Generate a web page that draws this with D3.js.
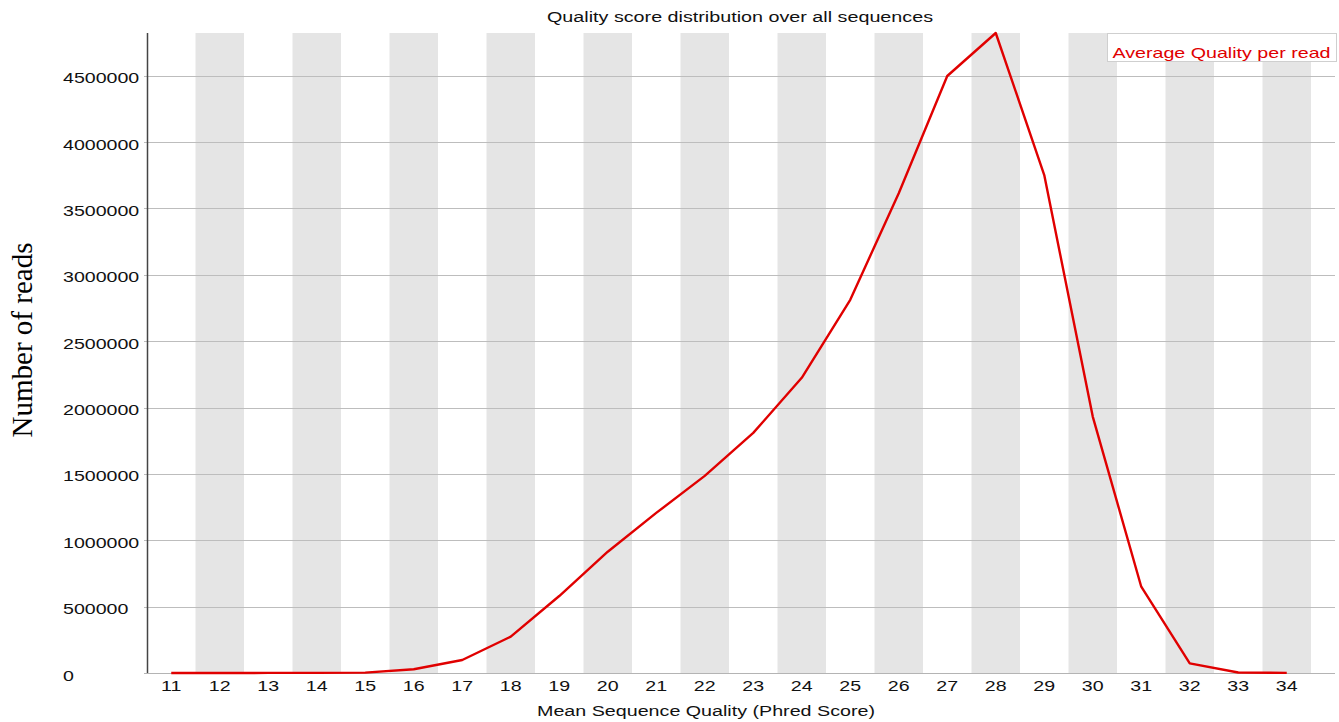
<!DOCTYPE html>
<html>
<head>
<meta charset="utf-8">
<script src="https://cdn.jsdelivr.net/npm/d3@7"></script>
<style>
  html, body { margin: 0; padding: 0; background: #fff; }
  svg { display: block; }
</style>
</head>
<body>
<svg id="chart" width="1339" height="722"></svg>
<script>
// Mean per-read quality score bins (Phred) and read counts per bin
const qualityScores = [11, 12, 13, 14, 15, 16, 17, 18, 19, 20, 21, 22, 23, 24, 25, 26, 27, 28, 29, 30, 31, 32, 33, 34];
const readCounts = [300, 400, 600, 900, 2500, 28000, 98000, 274000, 580000, 914000, 1206000, 1485000, 1809000, 2224000, 2812000, 3615000, 4498000, 4822000, 3752000, 1932000, 650000, 73000, 4000, 600];
const yTickValues = [0, 500000, 1000000, 1500000, 2000000, 2500000, 3000000, 3500000, 4000000, 4500000];
const seriesName = "Average Quality per read";
const titleText = "Quality score distribution over all sequences";
const xTitle = "Mean Sequence Quality (Phred Score)";
const yTitle = "Number of reads";

const svg = d3.select("#chart");
const plotLeft = 147, plotRight = 1311, gridRight = 1335, plotTop = 33, plotBottom = 673;
const labelLeft = 63;
const sans = "'Liberation Sans', Arial, sans-serif";

const x = d3.scaleBand().domain(qualityScores).range([plotLeft, plotRight]).paddingInner(0).paddingOuter(0);
const y = d3.scaleLinear().domain([0, d3.max(readCounts)]).range([plotBottom, plotTop]);

// alternating shaded bins
svg.append("g").selectAll("rect")
  .data(qualityScores.filter((d, i) => i % 2 === 1))
  .join("rect")
  .attr("x", d => x(d))
  .attr("y", plotTop)
  .attr("width", x.bandwidth())
  .attr("height", plotBottom - plotTop)
  .attr("fill", "#e5e5e5");

// horizontal grid lines
svg.append("g").selectAll("line")
  .data(yTickValues)
  .join("line")
  .attr("x1", plotLeft - 3)
  .attr("x2", gridRight)
  .attr("y1", d => Math.round(y(d)) + 0.5)
  .attr("y2", d => Math.round(y(d)) + 0.5)
  .attr("stroke", d => d === 0 ? "#b4b4b4" : "#bdbdbd")
  .attr("stroke-width", 1.2);

// y axis line
svg.append("line")
  .attr("x1", plotLeft + 0.5).attr("x2", plotLeft + 0.5)
  .attr("y1", plotTop).attr("y2", plotBottom)
  .attr("stroke", "#444").attr("stroke-width", 1.5);

// y tick labels, left-aligned in a column and stretched horizontally
const yAxis = d3.axisLeft(y).tickValues(yTickValues).tickFormat(d3.format("d")).tickSize(0);
const yg = svg.append("g").attr("transform", `translate(${plotLeft},0)`).call(yAxis);
yg.select(".domain").remove();
yg.selectAll(".tick text")
  .attr("x", 0)
  .attr("dy", 0)
  .attr("y", 0)
  .attr("text-anchor", "start")
  .attr("font-family", sans)
  .attr("font-size", 14)
  .attr("fill", "#111")
  .attr("transform", `translate(${labelLeft - plotLeft},7) scale(1.4,1)`);

// x tick labels
const xAxis = d3.axisBottom(x).tickSize(0);
const xg = svg.append("g").attr("transform", `translate(0,${plotBottom})`).call(xAxis);
xg.select(".domain").remove();
xg.selectAll(".tick text")
  .attr("y", 0)
  .attr("dy", 0)
  .attr("text-anchor", "middle")
  .attr("font-family", sans)
  .attr("font-size", 14)
  .attr("fill", "#111")
  .attr("transform", "translate(0,18) scale(1.4,1)");

// data line
const line = d3.line()
  .x((d, i) => x(qualityScores[i]) + x.bandwidth() / 2)
  .y(d => y(d));
svg.append("path")
  .datum(readCounts)
  .attr("d", line)
  .attr("fill", "none")
  .attr("stroke", "#e00000")
  .attr("stroke-width", 2.4)
  .attr("stroke-linejoin", "round");

// legend
svg.append("rect")
  .attr("x", 1107.5).attr("y", 33.5)
  .attr("width", 229).attr("height", 28)
  .attr("fill", "#fff").attr("stroke", "#cfcfcf");
svg.append("text")
  .attr("x", 1112.5).attr("y", 58)
  .attr("font-family", sans).attr("font-size", 15)
  .attr("fill", "#e00000")
  .attr("textLength", 218).attr("lengthAdjust", "spacingAndGlyphs")
  .text(seriesName);

// title
svg.append("text")
  .attr("x", 740).attr("y", 21.5)
  .attr("text-anchor", "middle")
  .attr("font-family", sans).attr("font-size", 14)
  .attr("fill", "#111")
  .attr("textLength", 386).attr("lengthAdjust", "spacingAndGlyphs")
  .text(titleText);

// x axis title
svg.append("text")
  .attr("x", 706).attr("y", 716)
  .attr("text-anchor", "middle")
  .attr("font-family", sans).attr("font-size", 14)
  .attr("fill", "#111")
  .attr("textLength", 338).attr("lengthAdjust", "spacingAndGlyphs")
  .text(xTitle);

// y axis title
svg.append("text")
  .attr("transform", "translate(32,340) rotate(-90)")
  .attr("text-anchor", "middle")
  .attr("font-family", "'Liberation Serif', 'Times New Roman', serif")
  .attr("font-size", 29)
  .attr("fill", "#000")
  .attr("textLength", 195).attr("lengthAdjust", "spacingAndGlyphs")
  .text(yTitle);
</script>
</body>
</html>
